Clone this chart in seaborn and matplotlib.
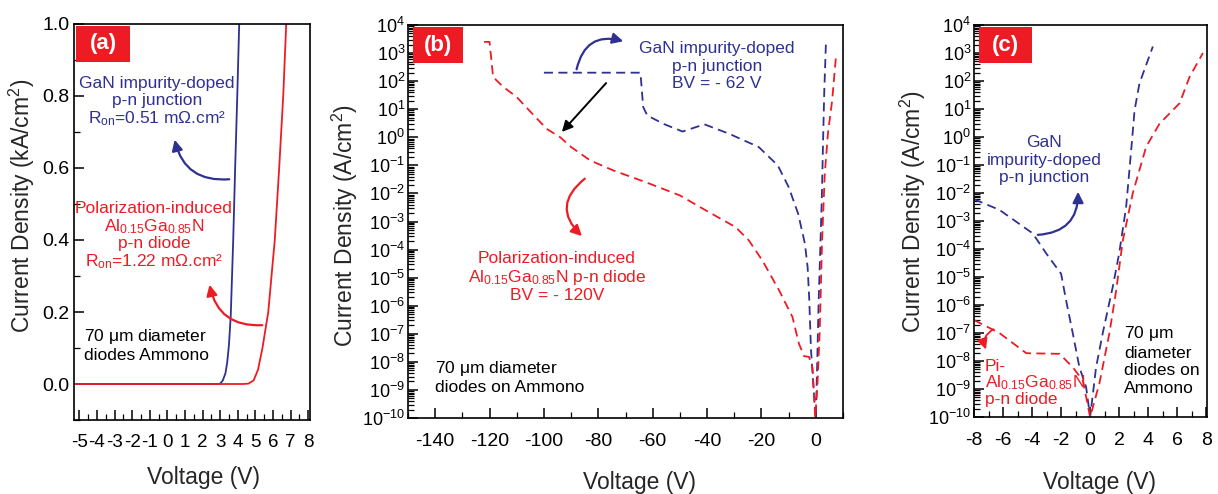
import numpy as np
import pandas as pd
import seaborn as sns
import matplotlib.pyplot as plt
from matplotlib.patches import Rectangle, FancyArrowPatch
from matplotlib.ticker import MultipleLocator, LogLocator, NullFormatter

# ---- data (V, current density) ----
# (a) linear scale, kA/cm^2
a_gan_v = [-5.3, 2.9, 3.0, 3.15, 3.3, 3.4, 3.5, 3.6, 3.74, 3.85, 3.97, 4.08]
a_gan_j = [0, 0, 0.001, 0.01, 0.03, 0.06, 0.11, 0.19, 0.4, 0.6, 0.8, 1.0]
a_pi_v = [-5.3, 4.3, 4.6, 4.9, 5.15, 5.4, 5.73, 6.1, 6.35, 6.58, 6.75]
a_pi_j = [0, 0, 0.001, 0.01, 0.04, 0.1, 0.2, 0.4, 0.6, 0.8, 1.0]

# (b) log scale, A/cm^2
b_gan_v = [-100, -64.5, -63.5, -62, -56, -49, -41, -32, -21, -14, -10, -6.5, -4, -3,
           -2.4, -1.8, -0.8, 0, 0.5, 1.0, 1.6, 2.2, 2.7, 3.1, 3.7]
b_gan_j = [200, 200, 12, 6, 3, 1.6, 2.9, 1.35, 0.45, 0.1, 0.017, 1.9e-3, 1.6e-4, 2.3e-5,
           1.6e-6, 3e-8, 1e-9, 1e-10, 8e-9, 1e-6, 8e-5, 6e-3, 1.0, 40, 2000]
b_pi_v = [-122, -120, -118.7, -115, -110, -105.4, -99, -94, -90, -83, -74.5, -62.5, -50,
          -40.5, -29.5, -24.6, -19.6, -13.5, -8.6, -6.2, -4.3, -2.5, -1.2, -0.2,
          0.6, 1.4, 2.3, 3.3, 4.5, 6.0, 7.4]
b_pi_j = [2500, 2500, 140, 63, 27, 9, 2, 1, 0.45, 0.15, 0.066, 0.025, 8.5e-3,
          2.5e-3, 6.3e-4, 2.1e-4, 4e-5, 3.5e-6, 4e-7, 4.4e-8, 1.6e-8, 1.5e-8, 6e-9, 1e-10,
          1.6e-9, 1e-7, 2e-4, 0.05, 1.5, 20, 740]

# (c) log scale, A/cm^2
c_gan_v = [-8, -6.25, -3.95, -3.03, -2.0, -1.66, -1.2, -0.74, -0.28, 0,
           0.41, 0.87, 1.56, 2.0, 2.48, 2.83, 3.06, 3.4, 4.32]
c_gan_j = [6e-3, 2.5e-3, 3.6e-4, 7e-5, 1.3e-5, 1.5e-6, 1e-7, 6e-9, 1.2e-9, 1e-10,
           6e-9, 1e-7, 4.5e-6, 7e-5, 3.2e-3, 0.35, 9, 83, 1700]
c_pi_v = [-8, -6.25, -4.4, -2.1, -1.2, -0.5, 0, 0.64, 1.33, 1.8, 2.25, 2.94, 3.86,
          4.78, 6.16, 6.85, 7.77]
c_pi_j = [2.9e-7, 1e-7, 1.9e-8, 1.8e-8, 6e-9, 2e-9, 1e-10, 1.6e-9, 1e-7, 3.5e-6, 2e-4,
          1e-2, 0.45, 3, 16, 140, 1000]

BLUE = "#2e3192"
RED = "#ed1c24"
W, H = 1218, 494

sns.set_theme(style="ticks")
plt.rcParams["font.family"] = ["Liberation Sans", "DejaVu Sans"]
plt.rcParams["mathtext.default"] = "regular"
plt.rcParams["axes.unicode_minus"] = False


def px(x, y):
    # image pixel -> figure fraction
    return x / W, 1 - y / H


def box(l, t, r, b):
    return [l / W, 1 - b / H, (r - l) / W, (b - t) / H]


def draw(ax, v, j, color, dashed):
    df = pd.DataFrame({"V": v, "J": j})
    ls = (0, (5, 3)) if dashed else "-"
    sns.lineplot(data=df, x="V", y="J", ax=ax, color=color, sort=False,
                 estimator=None, linewidth=1.3, linestyle=ls)


def style(ax):
    for s in ax.spines.values():
        s.set_linewidth(1.2)
        s.set_color("black")
    ax.tick_params(which="both", direction="in", top=False, right=False, colors="black")
    ax.tick_params(which="major", length=7, width=1.1, pad=3)
    ax.tick_params(which="minor", length=4, width=0.9)


def tag(label, l, t, r, b):
    fig.add_artist(Rectangle((l / W, 1 - b / H), (r - l) / W, (b - t) / H,
                             transform=fig.transFigure, facecolor=RED, edgecolor="none"))
    fig.text((l + r) / 2 / W, 1 - (t + b) / 2 / H, label, color="white", fontsize=16,
             fontweight="bold", ha="center", va="center")


def arrow(tail, head, color, rad=0.0, lw=1.6):
    fig.add_artist(FancyArrowPatch(
        px(*tail), px(*head), transform=fig.transFigure, arrowstyle="-|>",
        mutation_scale=16, color=color, lw=lw, connectionstyle=f"arc3,rad={rad}"))


fig = plt.figure(figsize=(W / 100, H / 100), dpi=100)
ax_a = fig.add_axes(box(74, 24, 310, 420))
ax_b = fig.add_axes(box(408, 25, 843, 418))
ax_c = fig.add_axes(box(974, 25, 1207, 417))

# ---- (a) ----
draw(ax_a, a_gan_v, a_gan_j, BLUE, False)
draw(ax_a, a_pi_v, a_pi_j, RED, False)
ax_a.set_xlim(-5.3, 8.1)
ax_a.set_ylim(-0.1, 1.0)
ax_a.xaxis.set_major_locator(MultipleLocator(1))
ax_a.xaxis.set_minor_locator(MultipleLocator(0.5))
ax_a.yaxis.set_major_locator(MultipleLocator(0.2))
ax_a.yaxis.set_minor_locator(MultipleLocator(0.1))
ax_a.yaxis.set_major_formatter(plt.FormatStrFormatter("%.1f"))
ax_a.xaxis.set_major_formatter(plt.FormatStrFormatter("%d"))
style(ax_a)
ax_a.tick_params(axis="y", labelsize=14)
ax_a.tick_params(axis="x", labelsize=13.5, pad=10)
ax_a.set_ylabel("Current Density (kA/cm$^2$)", fontsize=16.5)
ax_a.set_xlabel("Voltage (V)", fontsize=16.5)
ax_a.yaxis.set_label_coords(-0.22, 0.54)
ax_a.xaxis.set_label_coords(0.547, -0.144)

# ---- (b) and (c) log panels ----
for ax, gv, gj, pv, pj in [(ax_b, b_gan_v, b_gan_j, b_pi_v, b_pi_j),
                           (ax_c, c_gan_v, c_gan_j, c_pi_v, c_pi_j)]:
    draw(ax, gv, gj, BLUE, True)
    draw(ax, pv, pj, RED, True)
    ax.set_yscale("log")
    ax.set_ylim(1e-10, 1e4)
    ax.yaxis.set_major_locator(LogLocator(base=10, numticks=30))
    ax.yaxis.set_minor_locator(LogLocator(base=10, subs=np.arange(2, 10), numticks=30))
    ax.yaxis.set_minor_formatter(NullFormatter())
    style(ax)
    ax.tick_params(axis="y", labelsize=13, pad=2)
    ax.tick_params(axis="x", labelsize=14, pad=11)
    ax.set_ylabel("Current Density (A/cm$^2$)", fontsize=16.5)
    ax.set_xlabel("Voltage (V)", fontsize=16.5)

ax_b.set_xlim(-150, 10)
ax_b.xaxis.set_major_locator(MultipleLocator(20))
ax_b.xaxis.set_minor_locator(MultipleLocator(10))
ax_b.yaxis.set_label_coords(-0.145, 0.49)
ax_b.xaxis.set_label_coords(0.533, -0.163)

ax_c.set_xlim(-8, 8.05)
ax_c.xaxis.set_major_locator(MultipleLocator(2))
ax_c.xaxis.set_minor_locator(MultipleLocator(1))
ax_c.yaxis.set_label_coords(-0.262, 0.523)
ax_c.xaxis.set_label_coords(0.54, -0.166)

for ax in (ax_a, ax_b, ax_c):
    ax.xaxis.label.set_va("center")
    ax.yaxis.label.set_va("center")

# ---- panel tags ----
tag("(a)", 76, 26, 130, 62)
tag("(b)", 413, 27, 463, 63)
tag("(c)", 979, 27, 1032, 63)

# ---- annotations (a) ----
fs = 12.5
fig.text(*px(157, 102), "GaN impurity-doped\np-n junction\nR$_{on}$=0.51 mΩ.cm²",
         color=BLUE, fontsize=fs, ha="center", va="center", linespacing=1.15)
fig.text(*px(154, 236), "Polarization-induced\nAl$_{0.15}$Ga$_{0.85}$N\np-n diode\nR$_{on}$=1.22 mΩ.cm²",
         color=RED, fontsize=fs, ha="center", va="center", linespacing=1.05)
fig.text(*px(84, 345), "70 $\\mu$m diameter\ndiodes Ammono", color="black",
         fontsize=fs, ha="left", va="center", linespacing=1.2)
arrow((232, 179), (174, 137), BLUE, rad=-0.45)
arrow((265, 325), (209, 282), RED, rad=-0.45)

# ---- annotations (b) ----
fig.text(*px(717, 66), "GaN impurity-doped\np-n junction\nBV = - 62 V",
         color=BLUE, fontsize=fs, ha="center", va="center", linespacing=1.2)
fig.text(*px(557, 277), "Polarization-induced\nAl$_{0.15}$Ga$_{0.85}$N p-n diode\nBV = - 120V",
         color=RED, fontsize=fs, ha="center", va="center", linespacing=1.1)
fig.text(*px(435, 377), "70 $\\mu$m diameter\ndiodes on Ammono", color="black",
         fontsize=fs, ha="left", va="center", linespacing=1.2)
arrow((576, 72), (626, 42), BLUE, rad=-0.55)
arrow((608, 81), (560, 134), "black", rad=0.0, lw=1.4)
arrow((587, 177), (584, 238), RED, rad=0.6)

# ---- annotations (c) ----
fig.text(*px(1044, 160), "GaN\nimpurity-doped\np-n junction",
         color=BLUE, fontsize=fs, ha="center", va="center", linespacing=1.2)
fig.text(*px(985, 383), "Pi-\nAl$_{0.15}$Ga$_{0.85}$N\np-n diode",
         color=RED, fontsize=fs, ha="left", va="center", linespacing=1.0)
fig.text(*px(1124, 360), "70 $\\mu$m\ndiameter\ndiodes on\nAmmono", color="black",
         fontsize=fs, ha="left", va="center", linespacing=1.2)
arrow((1035, 235), (1078, 189), BLUE, rad=0.5)
arrow((996, 328), (987, 352), RED, rad=0.5, lw=1.3)

fig.savefig("out.png", dpi=100)
